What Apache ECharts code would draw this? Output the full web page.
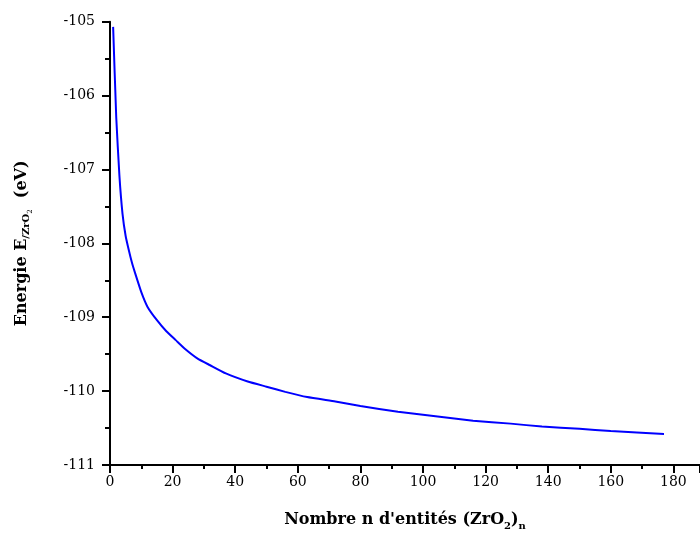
<!DOCTYPE html>
<html>
<head>
<meta charset="utf-8">
<script src="https://cdn.jsdelivr.net/npm/echarts@6/dist/echarts.min.js"></script>
<style>
  html, body { margin: 0; padding: 0; background: #fff; }
  #chart { width: 700px; height: 534px; }
</style>
</head>
<body>
<div id="chart"></div>
<script>
// n (number of ZrO2 units) and energy per unit
let nValues = [1, 2, 3, 4, 5, 6, 7, 8, 10, 12, 15, 18, 21, 24, 28, 32, 37, 44, 50, 56, 63, 72, 80, 92, 104, 116, 128, 138, 150, 160, 177]
let energy = [-105.07, -106.30, -107.08, -107.60, -107.90, -108.09, -108.26, -108.40, -108.66, -108.86, -109.04, -109.19, -109.31, -109.43, -109.56, -109.65, -109.76, -109.87, -109.94, -110.01, -110.08, -110.14, -110.20, -110.28, -110.34, -110.40, -110.44, -110.48, -110.51, -110.54, -110.58]
let xTicks = [0, 20, 40, 60, 80, 100, 120, 140, 160, 180]

let myChart = echarts.init(document.getElementById('chart'))

let points = nValues.map(function (n, i) { return [n, energy[i]] })

let labelFont = { color: '#000', fontFamily: 'DejaVu Serif', fontSize: 14 }
let tickStyle = { color: '#000', width: 2 }

let option = {
  backgroundColor: '#fff',
  animation: false,
  grid: { left: 110, right: 0, top: 21.7, bottom: 69, outerBoundsMode: 'none', containLabel: false },
  xAxis: {
    type: 'value',
    min: 0,
    max: 188.5,
    interval: 20,
    name: "{b|Nombre n d'entités (ZrO}{s|2}{b|)}{s|n}",
    nameLocation: 'middle',
    nameGap: 44,
    nameTextStyle: {
      rich: {
        b: { fontFamily: 'DejaVu Serif', fontWeight: 'bold', fontSize: 16, color: '#000' },
        s: { fontFamily: 'DejaVu Serif', fontWeight: 'bold', fontSize: 10, color: '#000', padding: [12, 0, 0, 0] }
      }
    },
    axisLine: { show: true, onZero: false, lineStyle: tickStyle },
    axisTick: { show: true, inside: false, length: 8, lineStyle: tickStyle },
    minorTick: { show: true, splitNumber: 2, length: 4, lineStyle: tickStyle },
    axisLabel: Object.assign({
      margin: 10,
      showMaxLabel: false,
      formatter: function (v) { return xTicks.indexOf(v) >= 0 ? String(v) : '' }
    }, labelFont),
    splitLine: { show: false }
  },
  yAxis: {
    type: 'value',
    min: -111,
    max: -105,
    interval: 1,
    name: '{b|Energie E}{s|/ZrO}{ss|2}{b|  (eV)}',
    nameLocation: 'middle',
    nameGap: 76,
    nameTextStyle: {
      rich: {
        b: { fontFamily: 'DejaVu Serif', fontWeight: 'bold', fontSize: 16, color: '#000' },
        s: { fontFamily: 'DejaVu Serif', fontWeight: 'bold', fontSize: 10, color: '#000', padding: [10, 0, 0, 0] },
        ss: { fontFamily: 'DejaVu Serif', fontSize: 7, color: '#000', padding: [18, 0, 0, 0] }
      }
    },
    axisLine: { show: true, onZero: false, lineStyle: tickStyle },
    axisTick: { show: true, inside: false, length: 8, lineStyle: tickStyle },
    minorTick: { show: true, splitNumber: 2, length: 5, lineStyle: tickStyle },
    axisLabel: Object.assign({ margin: 15 }, labelFont),
    splitLine: { show: false }
  },
  series: [
    {
      name: 'E',
      type: 'line',
      data: points,
      showSymbol: false,
      smooth: 0.15,
      lineStyle: { color: '#0000ff', width: 2 },
      itemStyle: { color: '#0000ff' }
    }
  ]
}
myChart.setOption(option)
</script>
</body>
</html>
